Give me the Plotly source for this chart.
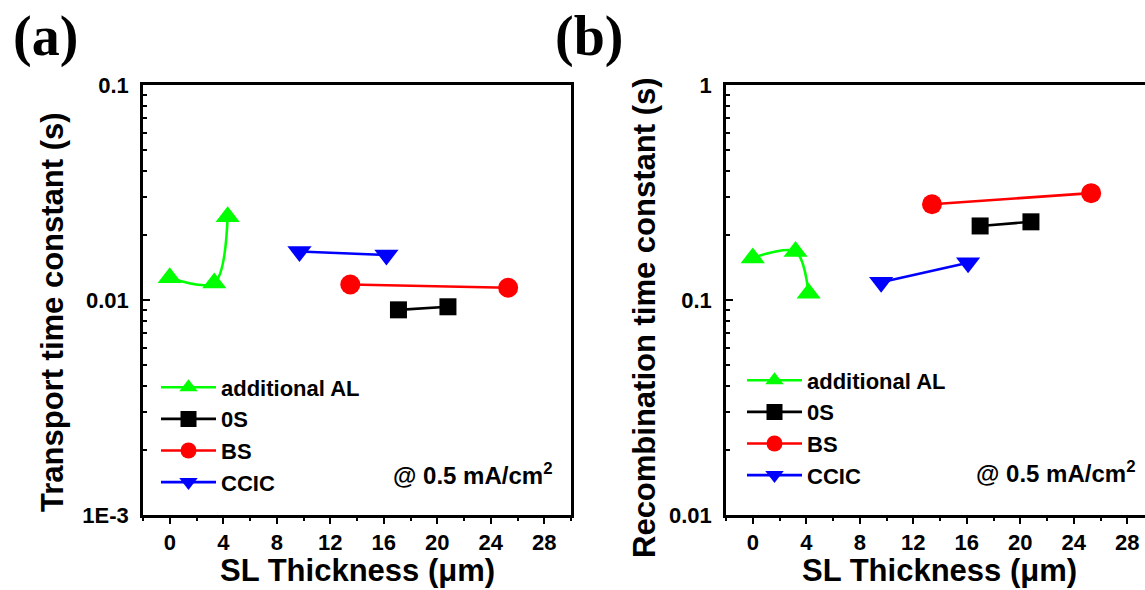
import plotly.graph_objects as go

# ---- data: SL thickness (um) vs time constants (s) ----
series_names = ["additional AL", "0S", "BS", "CCIC"]
series_colors = ["#00ff00", "#000000", "#ff0000", "#0000ff"]
series_symbols = ["triangle-up", "square", "circle", "triangle-down"]
series_sizes = [21, 17, 20, 21]

# (a) transport time constant
al_x_a = [0.0, 3.33, 4.33]
al_y_a = [0.0127, 0.0120, 0.0244]
os_x_a = [17.1, 20.8]
os_y_a = [0.0090, 0.0093]
bs_x_a = [13.5, 25.3]
bs_y_a = [0.0118, 0.0114]
ccic_x_a = [9.7, 16.2]
ccic_y_a = [0.0168, 0.0162]

# (b) recombination time constant
al_x_b = [0.0, 3.2, 4.18]
al_y_b = [0.157, 0.168, 0.1075]
os_x_b = [17.0, 20.8]
os_y_b = [0.221, 0.231]
bs_x_b = [13.4, 25.3]
bs_y_b = [0.279, 0.314]
ccic_x_b = [9.6, 16.1]
ccic_y_b = [0.121, 0.149]

x_ticks = [0, 4, 8, 12, 16, 20, 24, 28]
y_ticks_a = [0.001, 0.01, 0.1]
y_ticktext_a = ["1E-3", "0.01", "0.1"]
y_ticks_b = [0.01, 0.1, 1]
y_ticktext_b = ["0.01", "0.1", "1"]

W, H = 1145, 590
SANS = "Liberation Sans, Arial, sans-serif"
SERIF = "Liberation Serif, Times New Roman, serif"


def px_x(p):
    return p / W


def px_y(p):
    return 1 - p / H


fig = go.Figure()

panel_a = [(al_x_a, al_y_a), (os_x_a, os_y_a), (bs_x_a, bs_y_a), (ccic_x_a, ccic_y_a)]
panel_b = [(al_x_b, al_y_b), (os_x_b, os_y_b), (bs_x_b, bs_y_b), (ccic_x_b, ccic_y_b)]

for panel, (xa, ya, leg) in zip([panel_a, panel_b], [("x", "y", "legend"), ("x2", "y2", "legend2")]):
    for i, (xs, ys) in enumerate(panel):
        fig.add_trace(go.Scatter(
            x=xs, y=ys, mode="lines+markers", name=series_names[i],
            xaxis=xa, yaxis=ya, legend=leg,
            line=dict(color=series_colors[i], width=2.6,
                      shape="spline" if i == 0 else "linear", smoothing=0.9),
            marker=dict(symbol=series_symbols[i], size=series_sizes[i],
                        color=series_colors[i], line=dict(width=0)),
        ))

tickfont = dict(family=SANS, size=22, color="black", weight="bold")


def x_axis(domain, rng):
    return dict(
        domain=domain, range=rng, showgrid=False, zeroline=False, automargin=False,
        showline=True, linecolor="black", linewidth=2.6, mirror=True,
        tickmode="array", tickvals=x_ticks, ticks="outside", ticklen=6,
        tickwidth=2.4, tickcolor="black", tickfont=tickfont,
        minor=dict(tickmode="linear", tick0=0, dtick=2, ticks="outside",
                   ticklen=3.5, tickwidth=2.4, tickcolor="black", showgrid=False),
    )


def y_axis(domain, rng, vals, text, anchor, mirror):
    lo, hi = int(rng[0]), int(rng[1])
    minor_vals = [m * 10 ** e for e in range(lo, hi) for m in range(2, 10)]
    return dict(
        domain=domain, type="log", range=rng, anchor=anchor, showgrid=False,
        zeroline=False, automargin=False, showline=True, linecolor="black",
        linewidth=2.6, mirror=mirror, tickmode="array", tickvals=vals,
        ticktext=text, ticks="inside", ticklen=7, tickwidth=2.4,
        tickcolor="black", tickfont=tickfont, ticklabelstandoff=7,
        minor=dict(tickmode="array", tickvals=minor_vals, ticks="inside",
                   ticklen=4.5, tickwidth=2.4, tickcolor="black", showgrid=False),
    )


ydom = [px_y(515), px_y(85)]
scale = (571 - 143) / 32.0
xb_right = -2 + (W - 726) / scale

legend_style = dict(font=dict(family=SANS, size=22, color="black", weight="bold"),
                    bgcolor="rgba(0,0,0,0)", borderwidth=0, itemwidth=55,
                    xanchor="left", yanchor="top", tracegroupgap=0)

fig.update_layout(
    width=W, height=H, margin=dict(l=0, r=0, t=0, b=0),
    paper_bgcolor="white", plot_bgcolor="white",
    xaxis=x_axis([px_x(143), px_x(571)], [-2, 30]) | dict(anchor="y"),
    yaxis=y_axis(ydom, [-3, -1], y_ticks_a, y_ticktext_a, "x", True),
    xaxis2=x_axis([px_x(726), 1.0], [-2, xb_right]) | dict(anchor="y2"),
    yaxis2=y_axis(ydom, [-2, 0], y_ticks_b, y_ticktext_b, "x2", False),
    legend=legend_style | dict(x=px_x(156), y=px_y(366.5)),
    legend2=legend_style | dict(x=px_x(742), y=px_y(359.5)),
    showlegend=True,
)

title_font = dict(family=SANS, size=31, color="black", weight="bold")
note_font = dict(family=SANS, size=24, color="black", weight="bold")
label_font = dict(family=SERIF, size=56, color="black", weight="bold")
annotations = [
    dict(text="Transport time constant (s)", x=px_x(52), y=px_y(312), textangle=-90, font=title_font),
    dict(text="Recombination time constant (s)", x=px_x(644), y=px_y(318), textangle=-90, font=title_font),
    dict(text="SL Thickness (\u03bcm)", x=px_x(357), y=px_y(570), font=title_font),
    dict(text="SL Thickness (\u03bcm)", x=px_x(939), y=px_y(570), font=title_font),
    dict(text="@ 0.5 mA/cm<sup>2</sup>", x=px_x(391), y=px_y(474), xanchor="left", font=note_font),
    dict(text="@ 0.5 mA/cm<sup>2</sup>", x=px_x(974), y=px_y(472), xanchor="left", font=note_font),
    dict(text="(a)", x=px_x(45), y=px_y(36), font=label_font),
    dict(text="(b)", x=px_x(589), y=px_y(36), font=label_font),
]
for a in annotations:
    a.setdefault("xanchor", "center")
    a.update(xref="paper", yref="paper", yanchor="middle", showarrow=False)
fig.update_layout(annotations=annotations)

fig.write_html("out.html")
